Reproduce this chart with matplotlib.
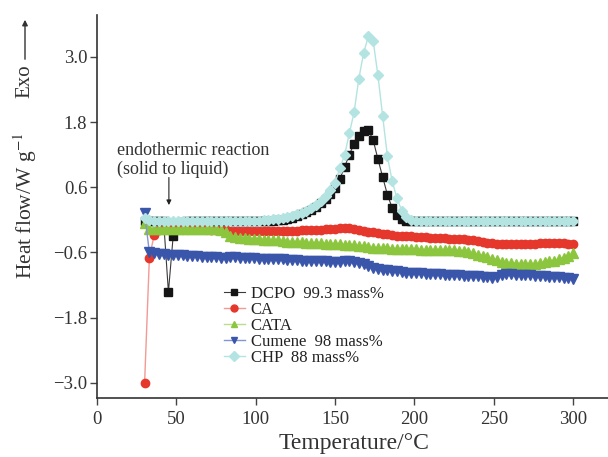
import numpy as np
import matplotlib
matplotlib.use("Agg")
import matplotlib.pyplot as plt
from matplotlib.ticker import FuncFormatter
from matplotlib.lines import Line2D

plt.rcParams["font.family"] = ["Liberation Serif", "DejaVu Serif"]
plt.rcParams["mathtext.fontset"] = "stix"

# Sample temperatures (°C) shared by all DSC traces
temperature = np.arange(30, 301, 3)

dcpo = [
    -0.03, -0.03, -0.03, -0.03, -0.03, -1.33, -0.30, -0.06, -0.04, -0.03,
    -0.03, -0.03, -0.03, -0.03, -0.03, -0.03, -0.03, -0.03, -0.03, -0.03,
    -0.03, -0.03, -0.03, -0.03, -0.03, -0.03, -0.02, -0.02, -0.01, 0.00,
    0.02, 0.04, 0.07, 0.10, 0.14, 0.18, 0.24, 0.31, 0.39, 0.48,
    0.58, 0.75, 0.97, 1.20, 1.40, 1.55, 1.63, 1.65, 1.47, 1.12,
    0.79, 0.46, 0.22, 0.08, 0.01, -0.02, -0.03, -0.03, -0.03, -0.03,
    -0.03, -0.03, -0.03, -0.03, -0.03, -0.03, -0.03, -0.03, -0.03, -0.03,
    -0.03, -0.03, -0.03, -0.03, -0.03, -0.03, -0.03, -0.03, -0.03, -0.03,
    -0.03, -0.03, -0.03, -0.03, -0.03, -0.03, -0.03, -0.03, -0.03, -0.03, -0.03,
]

ca = [
    -3.00, -0.70, -0.28, -0.18, -0.17, -0.17, -0.17, -0.17, -0.17, -0.17,
    -0.17, -0.17, -0.17, -0.17, -0.18, -0.18, -0.18, -0.19, -0.20, -0.20,
    -0.20, -0.20, -0.20, -0.20, -0.20, -0.20, -0.20, -0.20, -0.20, -0.20,
    -0.20, -0.20, -0.20, -0.19, -0.19, -0.19, -0.18, -0.18, -0.17, -0.17,
    -0.16, -0.15, -0.15, -0.15, -0.16, -0.18, -0.20, -0.22, -0.23, -0.25,
    -0.26, -0.27, -0.28, -0.29, -0.29, -0.30, -0.30, -0.31, -0.31, -0.32,
    -0.33, -0.33, -0.34, -0.34, -0.35, -0.35, -0.36, -0.36, -0.37, -0.38,
    -0.39, -0.40, -0.42, -0.43, -0.44, -0.44, -0.45, -0.45, -0.45, -0.44,
    -0.44, -0.44, -0.44, -0.43, -0.42, -0.42, -0.42, -0.43, -0.43, -0.44, -0.44,
]

cata = [
    -0.05, -0.17, -0.17, -0.16, -0.16, -0.16, -0.16, -0.16, -0.16, -0.16,
    -0.16, -0.16, -0.16, -0.16, -0.16, -0.17, -0.18, -0.22, -0.29, -0.32,
    -0.33, -0.34, -0.35, -0.36, -0.36, -0.37, -0.37, -0.38, -0.38, -0.39,
    -0.40, -0.40, -0.41, -0.41, -0.42, -0.42, -0.43, -0.43, -0.44, -0.44,
    -0.45, -0.45, -0.46, -0.46, -0.47, -0.48, -0.49, -0.50, -0.51, -0.51,
    -0.52, -0.52, -0.53, -0.53, -0.53, -0.54, -0.54, -0.54, -0.55, -0.55,
    -0.55, -0.55, -0.55, -0.56, -0.56, -0.56, -0.57, -0.58, -0.60, -0.62,
    -0.64, -0.66, -0.69, -0.72, -0.74, -0.77, -0.79, -0.80, -0.81, -0.82,
    -0.82, -0.82, -0.81, -0.80, -0.78, -0.76, -0.75, -0.73, -0.70, -0.67, -0.62,
]

cumene = [
    0.12, -0.60, -0.62, -0.63, -0.63, -0.64, -0.64, -0.65, -0.65, -0.66,
    -0.66, -0.67, -0.68, -0.68, -0.69, -0.69, -0.70, -0.70, -0.69, -0.69,
    -0.70, -0.70, -0.71, -0.71, -0.72, -0.72, -0.72, -0.73, -0.73, -0.73,
    -0.74, -0.74, -0.74, -0.75, -0.75, -0.75, -0.76, -0.76, -0.76, -0.77,
    -0.77, -0.77, -0.76, -0.76, -0.77, -0.79, -0.82, -0.85, -0.88, -0.90,
    -0.92, -0.93, -0.94, -0.95, -0.96, -0.97, -0.97, -0.98, -0.98, -0.99,
    -0.99, -1.00, -1.00, -1.01, -1.01, -1.02, -1.02, -1.03, -1.03, -1.04,
    -1.04, -1.05, -1.06, -1.07, -1.06, -1.01, -1.00, -1.00, -1.01, -1.01,
    -1.02, -1.02, -1.03, -1.03, -1.04, -1.05, -1.05, -1.06, -1.07, -1.08, -1.09,
]

chp = [
    0.04, -0.01, -0.03, -0.03, -0.03, -0.03, -0.03, -0.03, -0.03, -0.03,
    -0.03, -0.03, -0.03, -0.03, -0.03, -0.03, -0.03, -0.03, -0.03, -0.03,
    -0.03, -0.03, -0.03, -0.02, -0.02, -0.01, 0.00, 0.01, 0.02, 0.03,
    0.05, 0.07, 0.10, 0.13, 0.17, 0.22, 0.28, 0.35, 0.44, 0.54,
    0.68, 0.95, 1.19, 1.59, 1.98, 2.60, 3.07, 3.38, 3.30, 2.66,
    1.91, 1.17, 0.71, 0.40, 0.17, 0.05, 0.00, -0.02, -0.03, -0.03,
    -0.03, -0.03, -0.03, -0.03, -0.03, -0.03, -0.03, -0.03, -0.03, -0.03,
    -0.03, -0.03, -0.03, -0.03, -0.03, -0.03, -0.03, -0.03, -0.03, -0.03,
    -0.03, -0.03, -0.03, -0.03, -0.03, -0.03, -0.03, -0.03, -0.03, -0.03, -0.03,
]

labels = ["DCPO  99.3 mass%", "CA", "CATA", "Cumene  98 mass%", "CHP  88 mass%"]
x_ticks = [0, 50, 100, 150, 200, 250, 300]
y_ticks = [-3.0, -1.8, -0.6, 0.6, 1.8, 3.0]

styles = [
    dict(marker="s", ms=5.2, mfc="#151515", mec="#151515", color="#3a3a3a", lw=0.8),
    dict(marker="o", ms=6.0, mfc="#e5372b", mec="#e5372b", color="#f29a94", lw=1.0),
    dict(marker="^", ms=6.8, mfc="#8cc63e", mec="#8cc63e", color="#b9de8c", lw=1.0),
    dict(marker="v", ms=6.8, mfc="#3a56aa", mec="#3a56aa", color="#8496d2", lw=1.0),
    dict(marker="D", ms=5.2, mfc="#b3e4e1", mec="#b3e4e1", color="#b3e4e1", lw=1.0),
]

W, H = 608, 457
fig = plt.figure(figsize=(W / 100, H / 100), dpi=100)
ax = fig.add_axes([97 / W, 59 / H, 511 / W, 383 / H])

series = [dcpo, ca, cata, cumene, chp]
for values, st in zip(series, styles):
    ax.plot(temperature, values, **st)

ax.set_xlim(0, 322)
ax.set_ylim(-3.28, 3.77)
ax.set_xticks(x_ticks)
ax.set_yticks(y_ticks)
ax.yaxis.set_major_formatter(FuncFormatter(lambda v, p: f"{v:.1f}".replace("-", "\u2212")))

for side in ("top", "right"):
    ax.spines[side].set_visible(False)
for side in ("left", "bottom"):
    ax.spines[side].set_linewidth(1.2)
    ax.spines[side].set_color("#333333")
ax.tick_params(direction="out", length=5, width=1.0, color="#444444",
               labelsize=13.5, labelcolor="#333333")
ax.tick_params(axis="y", pad=2)
ax.tick_params(axis="x", pad=4)

# Axis titles
fig.text(354 / W, 1 - 444 / H, "Temperature/\u00b0C", fontsize=17,
         color="#333333", ha="center", va="center")
fig.text(25 / W, 1 - 206 / H, r"Heat flow/W g$^{-1}$", fontsize=15.5,
         color="#333333", ha="center", va="center", rotation=90)
fig.text(25 / W, 1 - 81 / H, "Exo", fontsize=15, color="#333333",
         ha="center", va="center", rotation=90)
fig.add_artist(matplotlib.patches.FancyArrowPatch(
    (25 / W, 1 - 62 / H), (25 / W, 1 - 17 / H), transform=fig.transFigure,
    arrowstyle="-|>", mutation_scale=8, lw=1.0, color="#333333"))

# Melting note
ax.text(12.5, 1.1, "endothermic reaction\n(solid to liquid)", fontsize=13,
        color="#333333", ha="left", va="center", linespacing=1.15)
ax.annotate("", xy=(45.3, 0.22), xytext=(45.3, 0.83),
            arrowprops=dict(arrowstyle="-|>", lw=0.8, color="#222222",
                            mutation_scale=7))

handles = [Line2D([], [], **dict(st, ms=5.0)) for st in styles]
fig.legend(handles, labels, loc="upper left",
           bbox_to_anchor=(224 / W, 1 - 286 / H), frameon=False,
           fontsize=12, handlelength=1.25, handletextpad=0.35,
           labelspacing=0.0, borderpad=0, borderaxespad=0, labelcolor="#222222")

fig.savefig("out.png", dpi=100)
